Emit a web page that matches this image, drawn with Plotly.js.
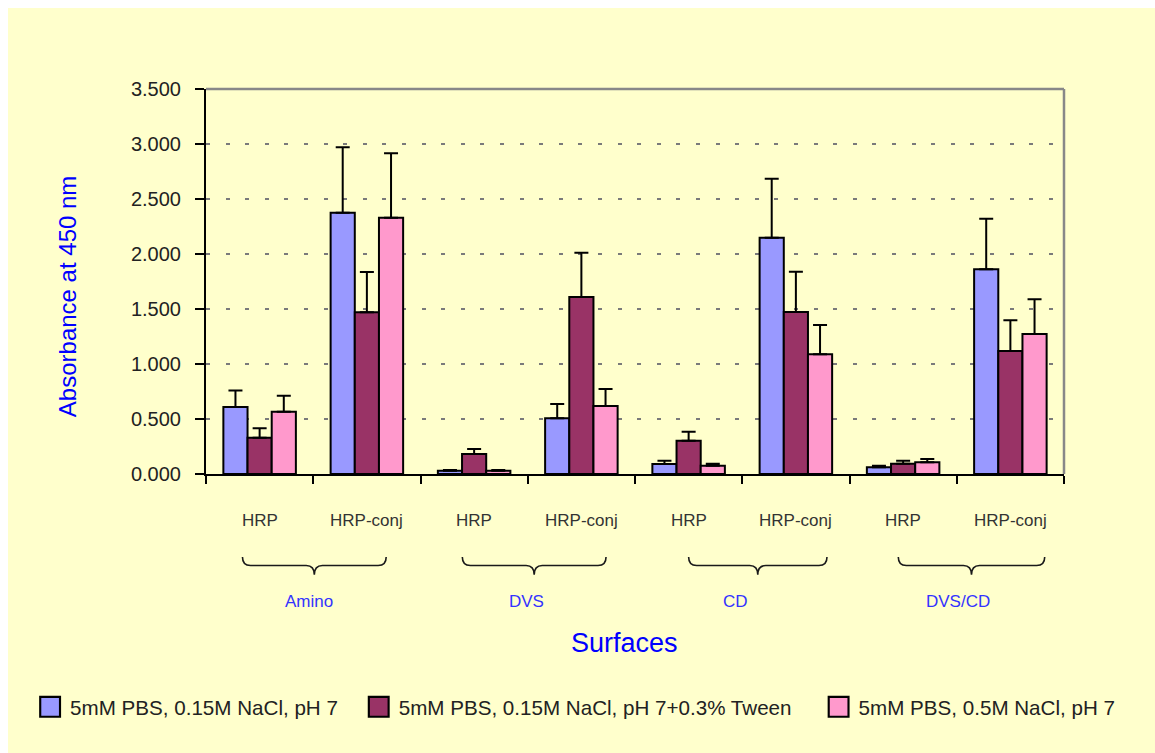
<!DOCTYPE html>
<html>
<head>
<meta charset="utf-8">
<script src="https://cdn.plot.ly/plotly-3.0.1.min.js"></script>
<style>
  html, body { margin: 0; padding: 0; background: #ffffff; }
  #chart { position: absolute; left: 8px; top: 8px; width: 1147px; height: 745px; }
</style>
</head>
<body>
<div id="chart"></div>
<script>
// Surfaces and the two samples measured on each
const surfaces = ['Amino', 'DVS', 'CD', 'DVS/CD'];
const samples = ['HRP', 'HRP-conj'];

// Buffer conditions (legend names)
const seriesNames = [
  '5mM PBS, 0.15M NaCl, pH 7',
  '5mM PBS, 0.15M NaCl, pH 7+0.3% Tween',
  '5mM PBS, 0.5M NaCl, pH 7'
];

// Absorbance at 450 nm, ordered Amino HRP, Amino HRP-conj, DVS HRP, ...
const pbs015 = [0.610, 2.376, 0.030, 0.506, 0.091, 2.148, 0.061, 1.861];
const pbs015Err = [0.150, 0.595, 0.006, 0.130, 0.030, 0.535, 0.015, 0.460];
const tween = [0.330, 1.470, 0.182, 1.609, 0.303, 1.473, 0.094, 1.118];
const tweenErr = [0.085, 0.366, 0.045, 0.403, 0.080, 0.366, 0.027, 0.279];
const pbs05 = [0.567, 2.330, 0.030, 0.618, 0.076, 1.088, 0.106, 1.273];
const pbs05Err = [0.145, 0.585, 0.006, 0.155, 0.018, 0.267, 0.030, 0.315];

const yTicks = [0, 0.5, 1, 1.5, 2, 2.5, 3, 3.5];

const seriesValues = [pbs015, tween, pbs05];
const seriesErrors = [pbs015Err, tweenErr, pbs05Err];
const seriesColors = ['#9999FF', '#993366', '#FF99CC'];
const legendIds = ['legend', 'legend2', 'legend3'];

// one slot per (surface, sample) pair along the x axis
const slots = [];
const slotLabels = [];
surfaces.forEach((s, g) => samples.forEach((m, k) => {
  slots.push(g * samples.length + k);
  slotLabels.push(m);
}));

const traces = seriesValues.map((vals, i) => ({
  type: 'bar',
  name: seriesNames[i],
  x: slots,
  y: vals,
  legend: legendIds[i],
  marker: { color: seriesColors[i], line: { color: '#000000', width: 2 } },
  error_y: {
    type: 'data', symmetric: false,
    array: seriesErrors[i],
    arrayminus: vals.map(() => 0),
    color: '#000000', thickness: 2, width: 7
  },
  hoverinfo: 'skip'
}));

// tick marks sit on the boundaries between slots
const boundaries = slots.map(v => v - 0.5).concat([slots.length - 0.5]);

const annotations = [];
slots.forEach((x, i) => annotations.push({
  x: x, xref: 'x', y: -0.122, yref: 'paper', text: slotLabels[i], showarrow: false,
  font: { size: 17, color: '#333333' }, xanchor: 'center', yanchor: 'middle'
}));

// brace extents and label positions under each surface pair
const braceSpan = [[-0.16, 1.18], [1.89, 3.23], [4.0, 5.29], [5.955, 7.32]];
const groupLabelX = [0.46, 2.49, 4.44, 6.51];
const shapes = [];
const yTop = -0.2155, yMid = -0.2377, yTip = -0.262, d = 0.075;
surfaces.forEach((s, g) => {
  const [x0, x1] = braceSpan[g];
  const xc = (x0 + x1) / 2;
  const path = `M ${x0},${yTop} Q ${x0},${yMid} ${x0 + d},${yMid} L ${xc - d},${yMid} ` +
               `Q ${xc},${yMid} ${xc},${yTip} Q ${xc},${yMid} ${xc + d},${yMid} ` +
               `L ${x1 - d},${yMid} Q ${x1},${yMid} ${x1},${yTop}`;
  shapes.push({ type: 'path', xref: 'x', yref: 'paper', path: path,
                line: { color: '#1a1a1a', width: 1.6 } });
  annotations.push({
    x: groupLabelX[g], xref: 'x', y: -0.332, yref: 'paper', text: s, showarrow: false,
    font: { size: 17, color: '#3333FF' }, xanchor: 'center', yanchor: 'middle'
  });
});

// y-axis title
annotations.push({
  x: -0.162, xref: 'paper', y: 0.462, yref: 'paper', text: 'Absorbance at 450 nm',
  textangle: -90, showarrow: false, font: { size: 24, color: '#0000FF' },
  xanchor: 'center', yanchor: 'middle'
});
// x-axis title
annotations.push({
  x: 0.488, xref: 'paper', y: -0.439, yref: 'paper', text: 'Surfaces', showarrow: false,
  font: { size: 27, color: '#0000FF' }, xanchor: 'center', yanchor: 'middle'
});

// grey frame on the top and right sides of the plot area
shapes.push({ type: 'line', xref: 'paper', yref: 'paper', x0: 0, x1: 1, y0: 1, y1: 1,
              line: { color: '#888888', width: 2.5 } });
shapes.push({ type: 'line', xref: 'paper', yref: 'paper', x0: 1, x1: 1, y0: 0, y1: 1,
              line: { color: '#888888', width: 2.5 } });

const legendBase = {
  orientation: 'h', yref: 'paper', y: -0.605, yanchor: 'middle', xanchor: 'left',
  bgcolor: 'rgba(0,0,0,0)', borderwidth: 0,
  font: { family: 'Liberation Sans, Arial, sans-serif', size: 20.6, color: '#222222' }
};

const layout = {
  width: 1147, height: 745,
  margin: { l: 198, r: 91, t: 81, b: 279 },
  paper_bgcolor: '#FFFFCC',
  plot_bgcolor: 'rgba(0,0,0,0)',
  font: { family: 'Liberation Sans, Arial, sans-serif', color: '#222222' },
  barmode: 'group',
  bargap: 0.324,
  bargroupgap: 0,
  showlegend: true,
  legend: Object.assign({}, legendBase, { x: -0.205 }),
  legend2: Object.assign({}, legendBase, { x: 0.178 }),
  legend3: Object.assign({}, legendBase, { x: 0.714 }),
  xaxis: {
    range: [-0.5, slots.length - 0.5],
    tickmode: 'array', tickvals: boundaries, ticktext: boundaries.map(() => ''),
    ticks: 'outside', ticklen: 8, tickwidth: 2, tickcolor: '#000000',
    showline: true, linecolor: '#000000', linewidth: 2,
    showgrid: false, zeroline: false, fixedrange: true
  },
  yaxis: {
    range: [0, 3.5],
    tickmode: 'array', tickvals: yTicks, tickformat: '.3f',
    ticks: 'outside', ticklen: 9, tickwidth: 2, tickcolor: '#000000',
    ticklabelstandoff: 10,
    tickfont: { size: 20, color: '#222222' },
    showline: true, linecolor: '#000000', linewidth: 2,
    showgrid: true, gridcolor: '#7a7a7a', gridwidth: 1.5, griddash: '4px,15.6px',
    zeroline: false, fixedrange: true
  },
  shapes: shapes,
  annotations: annotations
};

Plotly.newPlot('chart', traces, layout, { displayModeBar: false, staticPlot: true }).then(() => {
  // enlarge the legend swatches
  document.querySelectorAll('.legendpoints path').forEach(p => {
    const t = p.getAttribute('transform') || '';
    p.setAttribute('transform', t + ' scale(1.65)');
    p.style.strokeWidth = '1.3px';
    p.style.stroke = '#000000';
  });
});
</script>
</body>
</html>
